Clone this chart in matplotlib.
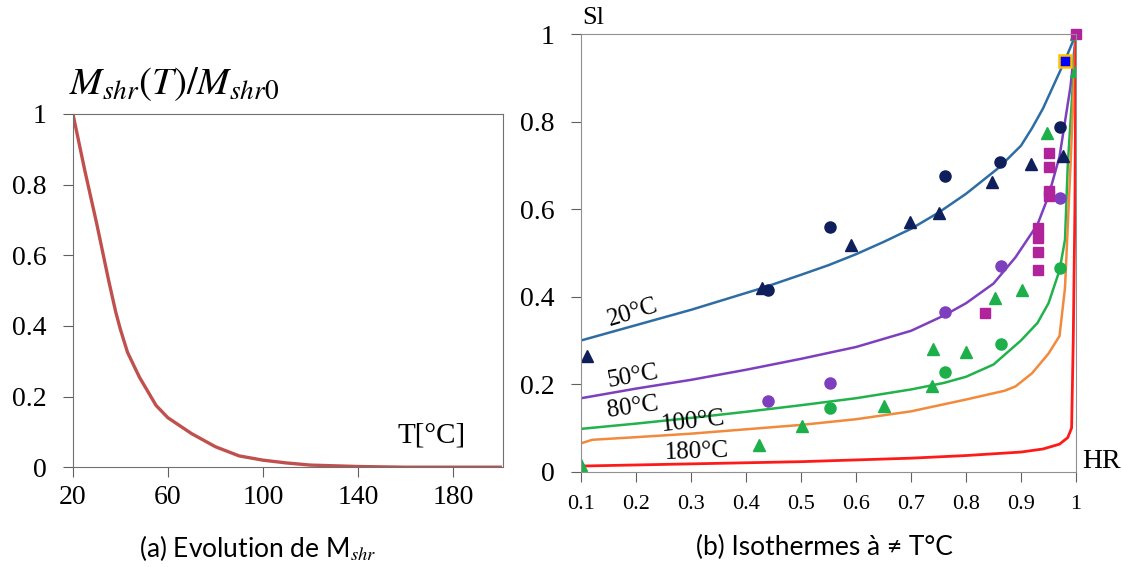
import matplotlib
matplotlib.use('Agg')
import matplotlib.pyplot as plt

plt.rcParams['font.family'] = 'Liberation Serif'
plt.rcParams['mathtext.fontset'] = 'stix'

# (a) shrinkage modulus vs temperature
temp = [20, 25, 30, 35, 38, 40, 43, 48, 55, 60, 70, 80, 90, 100, 110, 120, 140, 160, 180, 200]
mshr = [1, 0.84, 0.69, 0.53, 0.44, 0.39, 0.325, 0.255, 0.175, 0.14, 0.095, 0.058, 0.032, 0.02,
        0.012, 0.006, 0.002, 0, 0, 0]

# (b) model isotherms
hr20 = [0.1, 0.2, 0.3, 0.43, 0.5, 0.55, 0.6, 0.65, 0.7, 0.75, 0.8, 0.86, 0.9, 0.92, 0.94, 0.96, 0.98, 1.0]
sl20 = [0.30, 0.335, 0.37, 0.42, 0.45, 0.472, 0.497, 0.525, 0.555, 0.592, 0.635, 0.695, 0.745,
        0.785, 0.83, 0.885, 0.94, 1.0]
hr50 = [0.1, 0.2, 0.3, 0.4, 0.5, 0.6, 0.7, 0.76, 0.8, 0.85, 0.89, 0.93, 0.95, 0.97, 0.99, 1.0]
sl50 = [0.168, 0.19, 0.21, 0.233, 0.258, 0.285, 0.322, 0.357, 0.385, 0.43, 0.49, 0.565, 0.63, 0.72, 0.88, 1.0]
hr80 = [0.1, 0.2, 0.3, 0.4, 0.5, 0.6, 0.7, 0.76, 0.8, 0.85, 0.9, 0.93, 0.95, 0.97, 0.98, 0.985, 0.995, 1.0]
sl80 = [0.098, 0.11, 0.123, 0.137, 0.152, 0.168, 0.188, 0.203, 0.217, 0.245, 0.3, 0.34, 0.385, 0.46, 0.53, 0.7, 0.9, 1.0]
hr100 = [0.1, 0.12, 0.2, 0.3, 0.4, 0.5, 0.6, 0.7, 0.8, 0.87, 0.89, 0.92, 0.95, 0.97, 0.98, 0.99, 1.0]
sl100 = [0.065, 0.073, 0.079, 0.087, 0.097, 0.107, 0.12, 0.138, 0.165, 0.185, 0.195, 0.225, 0.27, 0.31, 0.42, 0.7, 1.0]
hr180 = [0.1, 0.3, 0.5, 0.7, 0.8, 0.9, 0.94, 0.97, 0.985, 0.992, 0.995, 0.998, 1.0]
sl180 = [0.013, 0.018, 0.023, 0.031, 0.037, 0.045, 0.052, 0.063, 0.078, 0.1, 0.3, 0.6, 1.0]

# (b) measurements
navy_circ_x = [0.44, 0.552, 0.762, 0.862, 0.97]
navy_circ_y = [0.415, 0.558, 0.676, 0.708, 0.787]
navy_tri_x = [0.11, 0.428, 0.59, 0.698, 0.75, 0.847, 0.918, 0.977]
navy_tri_y = [0.265, 0.419, 0.518, 0.571, 0.591, 0.661, 0.703, 0.721]
purple_circ_x = [0.44, 0.553, 0.761, 0.864, 0.97]
purple_circ_y = [0.162, 0.202, 0.365, 0.469, 0.626]
mag_sq_x = [0.834, 0.93, 0.93, 0.93, 0.93, 0.95, 0.95, 0.95, 0.95, 1.0]
mag_sq_y = [0.362, 0.462, 0.501, 0.534, 0.556, 0.629, 0.642, 0.697, 0.729, 1.0]
green_tri_x = [0.1, 0.424, 0.501, 0.651, 0.738, 0.74, 0.80, 0.853, 0.902, 0.948, 1.0, 1.0]
green_tri_y = [0.015, 0.062, 0.104, 0.15, 0.196, 0.281, 0.273, 0.396, 0.415, 0.775, 0.916, 1.0]
green_circ_x = [0.553, 0.761, 0.864, 0.97]
green_circ_y = [0.146, 0.227, 0.291, 0.465]
blue_sq_x = [0.98]
blue_sq_y = [0.939]

fig = plt.figure(figsize=(11.22, 5.67), dpi=100)

# ---- left panel
ax1 = fig.add_axes([0.065, 0.176, 0.383, 0.623])
ax1.plot(temp, mshr, color='#C0504D', lw=2.4)
ax1.set_xlim(20, 201)
ax1.set_ylim(0, 1)
ax1.set_xticks([20, 60, 100, 140, 180])
ax1.set_yticks([0, 0.2, 0.4, 0.6, 0.8, 1])
ax1.set_yticklabels(['0', '0.2', '0.4', '0.6', '0.8', '1'])
ax1.tick_params(axis='y', labelsize=20, colors='#606060', labelcolor='black', length=7, pad=12)
ax1.tick_params(axis='x', labelsize=20, colors='#606060', labelcolor='black', length=7, pad=6)
for s in ax1.spines.values():
    s.set_color('#707070')
ax1.text(-0.01, 1.03, r'$M_{shr}(T)/M_{shr0}$', transform=ax1.transAxes, fontsize=28,
         ha='left', va='bottom')
ax1.text(171, 0.09, 'T[°C]', fontsize=21, ha='center', va='center')
fig.text(0.23, 0.034, r'(a) Evolution de M$_{shr}$', fontsize=19, ha='center',
         va='center', family='Lato')

# ---- right panel
ax2 = fig.add_axes([0.518, 0.168, 0.441, 0.772])
ax2.plot(hr20, sl20, color='#2E6DA4', lw=1.8)
ax2.plot(hr50, sl50, color='#7E3FBF', lw=1.8)
ax2.plot(hr80, sl80, color='#22B24C', lw=1.8)
ax2.plot(hr100, sl100, color='#F28A3C', lw=1.8)
ax2.plot(hr180, sl180, color='#FF1A1A', lw=2)

ax2.plot(navy_circ_x, navy_circ_y, 'o', color='#0F1F5C', ms=8, ls='none')
ax2.plot(navy_tri_x, navy_tri_y, '^', color='#0F1F5C', ms=9, ls='none')
ax2.plot(purple_circ_x, purple_circ_y, 'o', color='#7E3FBF', ms=8, ls='none')
ax2.plot(green_tri_x, green_tri_y, '^', color='#1DB04A', ms=9, ls='none')
ax2.plot(green_circ_x, green_circ_y, 'o', color='#1DB04A', ms=8, ls='none')
ax2.plot(mag_sq_x, mag_sq_y, 's', color='#B0239A', ms=6.5, ls='none', clip_on=False)
ax2.plot(blue_sq_x, blue_sq_y, 's', color='#0000FF', mec='#FFC000', mew=1.8, ms=8, ls='none')

ax2.set_xlim(0.1, 1.0)
ax2.set_ylim(0, 1)
ax2.set_xticks([0.1, 0.2, 0.3, 0.4, 0.5, 0.6, 0.7, 0.8, 0.9, 1.0])
ax2.set_xticklabels(['0.1', '0.2', '0.3', '0.4', '0.5', '0.6', '0.7', '0.8', '0.9', '1'])
ax2.set_yticks([0, 0.2, 0.4, 0.6, 0.8, 1])
ax2.set_yticklabels(['0', '0.2', '0.4', '0.6', '0.8', '1'])
ax2.tick_params(axis='y', labelsize=20, colors='#606060', labelcolor='black', length=7, pad=12)
ax2.tick_params(axis='x', labelsize=16, colors='#606060', labelcolor='black', length=7, pad=10)
for s in ax2.spines.values():
    s.set_color('#909090')

ax2.text(0.194, 0.363, '20°C', fontsize=18, rotation=17, ha='center', va='center')
ax2.text(0.194, 0.217, '50°C', fontsize=18, rotation=10, ha='center', va='center')
ax2.text(0.194, 0.146, '80°C', fontsize=18, rotation=8, ha='center', va='center')
ax2.text(0.303, 0.114, '100°C', fontsize=18, rotation=6, ha='center', va='center')
ax2.text(0.31, 0.046, '180°C', fontsize=18, rotation=2, ha='center', va='center')
ax2.text(0.122, 1.037, 'Sl', fontsize=19, ha='center', va='center', clip_on=False)
ax2.text(1.047, 0.023, 'HR', fontsize=20, ha='center', va='center', clip_on=False)
fig.text(0.735, 0.034, '(b) Isothermes à ≠ T°C', fontsize=19, ha='center',
         va='center', family='Lato')

fig.savefig('out.png', dpi=100)
